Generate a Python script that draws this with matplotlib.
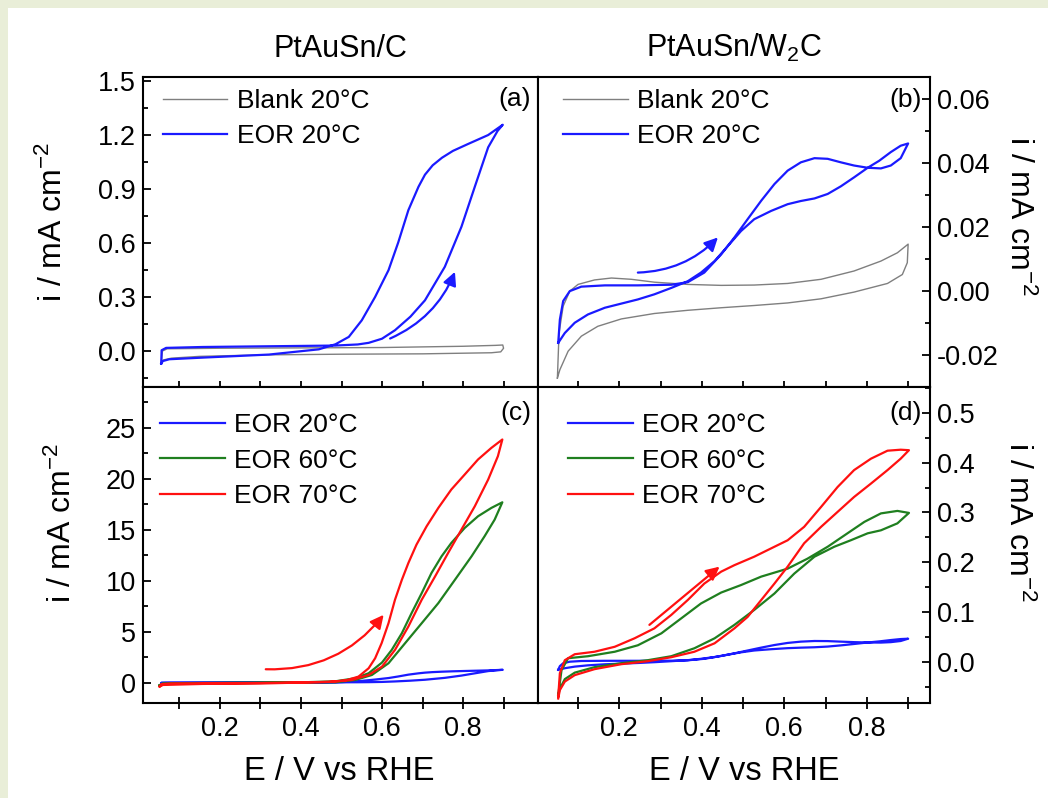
import matplotlib
matplotlib.use("Agg")
import matplotlib.pyplot as plt
from matplotlib.ticker import MultipleLocator, FormatStrFormatter
from matplotlib.patches import Rectangle

plt.rcParams["font.family"] = ["Liberation Sans", "DejaVu Sans"]
plt.rcParams["mathtext.fontset"] = "custom"
plt.rcParams["mathtext.rm"] = "Liberation Sans"
plt.rcParams["mathtext.it"] = "Liberation Sans:italic"
plt.rcParams["mathtext.default"] = "regular"
plt.rcParams["axes.unicode_minus"] = False

# ---- data (E / V vs RHE, i / mA cm-2), forward and backward scans ----
# (a) PtAuSn/C, 20 C
a_blank_fwd_E = [0.055, 0.058, 0.070, 0.200, 0.400, 0.600, 0.800, 0.880, 0.898]
a_blank_fwd_i = [-0.065, 0.000, 0.012, 0.015, 0.017, 0.019, 0.026, 0.031, 0.033]
a_blank_bwd_E = [0.898, 0.900, 0.893, 0.870, 0.700, 0.500, 0.300, 0.150, 0.080, 0.060, 0.055]
a_blank_bwd_i = [0.033, 0.015, -0.005, -0.010, -0.016, -0.018, -0.022, -0.030, -0.040, -0.050, -0.065]

a_eor_fwd_E = [0.055, 0.056, 0.067, 0.157, 0.321, 0.485, 0.540, 0.567, 0.600, 0.632,
               0.670, 0.706, 0.755, 0.796, 0.829, 0.862, 0.885, 0.898]
a_eor_fwd_i = [-0.070, 0.004, 0.017, 0.022, 0.026, 0.030, 0.036, 0.045, 0.068, 0.115,
               0.190, 0.281, 0.467, 0.689, 0.911, 1.130, 1.220, 1.255]
a_eor_bwd_E = [0.898, 0.862, 0.812, 0.775, 0.748, 0.725, 0.706, 0.690, 0.665, 0.640,
               0.616, 0.583, 0.550, 0.518, 0.485, 0.444, 0.321, 0.157, 0.075, 0.059, 0.055]
a_eor_bwd_i = [1.255, 1.198, 1.148, 1.110, 1.072, 1.030, 0.978, 0.911, 0.781, 0.602,
               0.448, 0.300, 0.170, 0.078, 0.037, 0.009, -0.020, -0.037, -0.046, -0.056, -0.070]

# (b) PtAuSn/W2C, 20 C
b_blank_fwd_E = [0.050, 0.054, 0.064, 0.080, 0.100, 0.140, 0.181, 0.229, 0.285, 0.366,
                 0.447, 0.527, 0.608, 0.689, 0.769, 0.834, 0.874, 0.900]
b_blank_fwd_i = [-0.0272, -0.0131, -0.0047, 0.0000, 0.0021, 0.0035, 0.0041, 0.0037, 0.0028, 0.0021,
                 0.0018, 0.0019, 0.0024, 0.0037, 0.0063, 0.0094, 0.0120, 0.0147]
b_blank_bwd_E = [0.900, 0.898, 0.886, 0.850, 0.769, 0.689, 0.608, 0.527, 0.447, 0.366,
                 0.285, 0.205, 0.148, 0.108, 0.076, 0.056, 0.050]
b_blank_bwd_i = [0.0147, 0.0089, 0.0052, 0.0024, -0.0003, -0.0024, -0.0037, -0.0045, -0.0052, -0.0060,
                 -0.0070, -0.0087, -0.0110, -0.0141, -0.0188, -0.0246, -0.0272]

b_eor_fwd_E = [0.052, 0.056, 0.064, 0.080, 0.108, 0.165, 0.245, 0.326, 0.366, 0.406,
               0.447, 0.479, 0.511, 0.544, 0.576, 0.608, 0.640, 0.673, 0.705, 0.737,
               0.769, 0.802, 0.834, 0.858, 0.882, 0.900]
b_eor_fwd_i = [-0.0162, -0.0089, -0.0031, 0.0000, 0.0014, 0.0018, 0.0018, 0.0020, 0.0028, 0.0058,
               0.0115, 0.0168, 0.0225, 0.0283, 0.0335, 0.0377, 0.0403, 0.0416, 0.0414, 0.0403,
               0.0393, 0.0386, 0.0384, 0.0393, 0.0416, 0.0462]
b_eor_bwd_E = [0.900, 0.882, 0.858, 0.830, 0.802, 0.769, 0.737, 0.705, 0.673, 0.640,
               0.608, 0.568, 0.527, 0.495, 0.463, 0.431, 0.398, 0.366, 0.326, 0.285,
               0.245, 0.205, 0.165, 0.124, 0.092, 0.068, 0.052]
b_eor_bwd_i = [0.0462, 0.0455, 0.0435, 0.0408, 0.0386, 0.0356, 0.0328, 0.0304, 0.0290, 0.0282,
               0.0272, 0.0251, 0.0225, 0.0188, 0.0141, 0.0094, 0.0058, 0.0031, 0.0010, -0.0010,
               -0.0026, -0.0039, -0.0052, -0.0073, -0.0099, -0.0131, -0.0162]

# (c) PtAuSn/C at 60 and 70 C (20 C is the curve of panel a)
c_green_fwd_E = [0.051, 0.059, 0.239, 0.485, 0.534, 0.575, 0.616, 0.657, 0.698, 0.739,
                 0.780, 0.821, 0.853, 0.878, 0.897]
c_green_fwd_i = [-0.26, -0.07, 0.00, 0.03, 0.26, 0.75, 1.90, 3.87, 5.83, 7.80,
                 10.09, 12.39, 14.35, 15.99, 17.69]
c_green_bwd_E = [0.897, 0.870, 0.837, 0.804, 0.771, 0.747, 0.722, 0.698, 0.673, 0.649,
                 0.624, 0.600, 0.567, 0.534, 0.485, 0.403, 0.239, 0.075, 0.051]
c_green_bwd_i = [17.69, 17.14, 16.32, 15.17, 13.70, 12.39, 10.75, 8.78, 6.82, 4.85,
                 3.21, 1.97, 0.92, 0.43, 0.13, 0.03, -0.07, -0.13, -0.26]

c_red_fwd_E = [0.051, 0.055, 0.080, 0.300, 0.468, 0.526, 0.567, 0.600, 0.632, 0.665,
               0.698, 0.731, 0.763, 0.796, 0.829, 0.862, 0.886, 0.897]
c_red_fwd_i = [-0.39, -0.15, -0.08, -0.04, 0.07, 0.26, 0.75, 1.57, 3.21, 5.50,
               8.13, 10.42, 12.71, 15.01, 17.30, 19.92, 22.21, 23.85]
c_red_bwd_E = [0.897, 0.870, 0.837, 0.804, 0.771, 0.739, 0.710, 0.685, 0.665, 0.649,
               0.632, 0.616, 0.599, 0.583, 0.567, 0.542, 0.509, 0.468, 0.321, 0.157,
               0.059, 0.051]
c_red_bwd_i = [23.85, 23.03, 21.89, 20.41, 18.94, 17.14, 15.33, 13.53, 11.73, 10.09,
               8.13, 5.83, 3.87, 2.39, 1.41, 0.59, 0.20, 0.07, -0.07, -0.13,
               -0.23, -0.39]

# (d) PtAuSn/W2C at 60 and 70 C (20 C is the curve of panel b)
d_green_fwd_E = [0.052, 0.060, 0.076, 0.124, 0.189, 0.245, 0.302, 0.350, 0.398, 0.447,
                 0.495, 0.544, 0.608, 0.656, 0.705, 0.753, 0.794, 0.834, 0.874, 0.902]
d_green_fwd_i = [-0.067, -0.017, 0.007, 0.011, 0.020, 0.033, 0.057, 0.087, 0.117, 0.139,
                 0.154, 0.171, 0.187, 0.207, 0.231, 0.258, 0.281, 0.298, 0.303, 0.299]
d_green_bwd_E = [0.902, 0.874, 0.834, 0.802, 0.761, 0.721, 0.673, 0.624, 0.576, 0.527,
                 0.479, 0.431, 0.382, 0.326, 0.269, 0.205, 0.140, 0.092, 0.068, 0.056, 0.052]
d_green_bwd_i = [0.299, 0.278, 0.264, 0.258, 0.244, 0.231, 0.211, 0.177, 0.137, 0.104,
                 0.074, 0.047, 0.027, 0.011, 0.003, -0.003, -0.011, -0.022, -0.035, -0.054, -0.067]

d_red_fwd_E = [0.052, 0.056, 0.068, 0.092, 0.140, 0.189, 0.237, 0.285, 0.326, 0.366,
               0.406, 0.447, 0.479, 0.527, 0.576, 0.608, 0.648, 0.689, 0.729, 0.769,
               0.810, 0.850, 0.882, 0.902]
d_red_fwd_i = [-0.070, -0.023, 0.003, 0.015, 0.020, 0.030, 0.047, 0.067, 0.094, 0.124,
               0.157, 0.181, 0.194, 0.211, 0.231, 0.244, 0.271, 0.311, 0.351, 0.385,
               0.408, 0.424, 0.426, 0.425]
d_red_bwd_E = [0.902, 0.882, 0.850, 0.810, 0.769, 0.729, 0.689, 0.648, 0.608, 0.576,
               0.544, 0.511, 0.479, 0.431, 0.382, 0.326, 0.269, 0.205, 0.140, 0.092,
               0.068, 0.056, 0.052]
d_red_bwd_i = [0.425, 0.408, 0.385, 0.358, 0.331, 0.301, 0.271, 0.238, 0.191, 0.157,
               0.124, 0.090, 0.067, 0.037, 0.020, 0.009, 0.001, -0.005, -0.015, -0.027,
               -0.040, -0.057, -0.074]

# scan direction arrows (start, end) in data units
a_arrow = [(0.620, 0.069), (0.780, 0.439)]
b_arrow = [(0.245, 0.0058), (0.439, 0.0168)]
c_arrow = [(0.313, 1.31), (0.604, 6.65)]
d_arrow = [(0.273, 0.074), (0.443, 0.191)]

BLUE = "#1a1aff"
GREEN = "#1f7f1f"
RED = "#ff1010"
GRAY = "#7f7f7f"

W, H = 1048, 798


def fx(px):
    return px / W


def fy(py):
    return 1 - py / H


def loop(fE, fi, bE, bi):
    return fE + bE, fi + bi


def style(ax, xlim, ylim, ymaj, ymin, yfmt, side, xlabels):
    for s in ax.spines.values():
        s.set_linewidth(1.5)
    ax.set_xlim(*xlim)
    ax.set_ylim(*ylim)
    ax.xaxis.set_major_locator(MultipleLocator(0.2))
    ax.xaxis.set_minor_locator(MultipleLocator(0.1))
    ax.xaxis.set_major_formatter(FormatStrFormatter("%.1f"))
    ax.yaxis.set_major_locator(MultipleLocator(ymaj))
    ax.yaxis.set_minor_locator(MultipleLocator(ymin))
    ax.yaxis.set_major_formatter(FormatStrFormatter(yfmt))
    ax.tick_params(axis="x", which="both", direction="inout", length=9, width=1.3,
                   top=False, labelsize=19.5, pad=5, labelbottom=xlabels)
    if side == "right":
        ax.yaxis.tick_right()
    ax.tick_params(axis="y", which="major", direction="in", length=6, width=1.3,
                   labelsize=19.5, pad=5)
    ax.tick_params(axis="y", which="minor", direction="in", length=3.5, width=1.3)


def arrow(ax, pts, color, rad):
    ax.annotate("", xy=pts[1], xytext=pts[0],
                arrowprops=dict(arrowstyle="-|>", color=color, lw=1.6, mutation_scale=20,
                                shrinkA=0, shrinkB=0,
                                connectionstyle="arc3,rad=%s" % rad))


fig = plt.figure(figsize=(10.48, 7.98), dpi=100)
fig.patch.set_facecolor("#e9eed8")
fig.add_artist(Rectangle((fx(8), 0), 1, fy(8), transform=fig.transFigure,
                         facecolor="white", edgecolor="none", zorder=-5))

L, M, R = 143, 538, 930
T, C, B = 77, 387, 703
ax_a = fig.add_axes([fx(L), fy(C), fx(M) - fx(L), fy(T) - fy(C)])
ax_b = fig.add_axes([fx(M), fy(C), fx(R) - fx(M), fy(T) - fy(C)])
ax_c = fig.add_axes([fx(L), fy(B), fx(M) - fx(L), fy(C) - fy(B)])
ax_d = fig.add_axes([fx(M), fy(B), fx(R) - fx(M), fy(C) - fy(B)])

leg_kw = dict(loc="upper left", frameon=False, fontsize=19, handlelength=2.45,
              handletextpad=0.35, labelspacing=0.44, borderpad=0, borderaxespad=0)

# (a)
ax_a.plot(*loop(a_blank_fwd_E, a_blank_fwd_i, a_blank_bwd_E, a_blank_bwd_i),
          color=GRAY, lw=1.0, label="Blank 20°C")
ax_a.plot(*loop(a_eor_fwd_E, a_eor_fwd_i, a_eor_bwd_E, a_eor_bwd_i),
          color=BLUE, lw=1.6, label="EOR 20°C")
arrow(ax_a, a_arrow, BLUE, 0.2)
style(ax_a, (0.01, 0.985), (-0.2, 1.52), 0.3, 0.15, "%.1f", "left", False)
ax_a.legend(bbox_to_anchor=(0.05, 0.962), **leg_kw)
ax_a.text(0.982, 0.93, "(a)", transform=ax_a.transAxes, ha="right", va="center", fontsize=19)

# (b)
ax_b.plot(*loop(b_blank_fwd_E, b_blank_fwd_i, b_blank_bwd_E, b_blank_bwd_i),
          color=GRAY, lw=1.0, label="Blank 20°C")
ax_b.plot(*loop(b_eor_fwd_E, b_eor_fwd_i, b_eor_bwd_E, b_eor_bwd_i),
          color=BLUE, lw=1.6, label="EOR 20°C")
arrow(ax_b, b_arrow, BLUE, 0.2)
style(ax_b, (0.003, 0.953), (-0.03, 0.067), 0.02, 0.01, "%.2f", "right", False)
ax_b.legend(bbox_to_anchor=(0.064, 0.962), **leg_kw)
ax_b.text(0.978, 0.925, "(b)", transform=ax_b.transAxes, ha="right", va="center", fontsize=19)

# (c)
ax_c.plot(*loop(a_eor_fwd_E, a_eor_fwd_i, a_eor_bwd_E, a_eor_bwd_i),
          color=BLUE, lw=1.6, label="EOR 20°C")
ax_c.plot(*loop(c_green_fwd_E, c_green_fwd_i, c_green_bwd_E, c_green_bwd_i),
          color=GREEN, lw=1.6, label="EOR 60°C")
ax_c.plot(*loop(c_red_fwd_E, c_red_fwd_i, c_red_bwd_E, c_red_bwd_i),
          color=RED, lw=1.6, label="EOR 70°C")
arrow(ax_c, c_arrow, RED, 0.25)
style(ax_c, (0.01, 0.985), (-2, 29), 5, 2.5, "%d", "left", True)
ax_c.legend(bbox_to_anchor=(0.043, 0.918), **leg_kw)
ax_c.text(0.982, 0.918, "(c)", transform=ax_c.transAxes, ha="right", va="center", fontsize=19)

# (d)
ax_d.plot(*loop(b_eor_fwd_E, b_eor_fwd_i, b_eor_bwd_E, b_eor_bwd_i),
          color=BLUE, lw=1.6, label="EOR 20°C")
ax_d.plot(*loop(d_green_fwd_E, d_green_fwd_i, d_green_bwd_E, d_green_bwd_i),
          color=GREEN, lw=1.6, label="EOR 60°C")
ax_d.plot(*loop(d_red_fwd_E, d_red_fwd_i, d_red_bwd_E, d_red_bwd_i),
          color=RED, lw=1.6, label="EOR 70°C")
arrow(ax_d, d_arrow, RED, 0.0)
style(ax_d, (0.003, 0.953), (-0.083, 0.552), 0.1, 0.05, "%.1f", "right", True)
ax_d.legend(bbox_to_anchor=(0.077, 0.918), **leg_kw)
ax_d.text(0.978, 0.918, "(d)", transform=ax_d.transAxes, ha="right", va="center", fontsize=19)

# titles and axis labels
fig.text(fx(340), fy(57), "PtAuSn/C", ha="center", va="baseline", fontsize=22)
fig.text(fx(734), fy(57), "PtAuSn/W$_2$C", ha="center", va="baseline", fontsize=22)
fig.text(fx(339), fy(780), "E / V vs RHE", ha="center", va="baseline", fontsize=23.5)
fig.text(fx(744), fy(780), "E / V vs RHE", ha="center", va="baseline", fontsize=23.5)
fig.text(fx(53), fy(222), "i / mA cm$^{-2}$", ha="center", va="center", rotation=90, fontsize=23)
fig.text(fx(62), fy(523), "i / mA cm$^{-2}$", ha="center", va="center", rotation=90, fontsize=23)
fig.text(fx(1019), fy(216), "i / mA cm$^{-2}$", ha="center", va="center", rotation=270, fontsize=23)
fig.text(fx(1018), fy(522), "i / mA cm$^{-2}$", ha="center", va="center", rotation=270, fontsize=23)

fig.savefig("out.png", dpi=100, facecolor=fig.get_facecolor())
